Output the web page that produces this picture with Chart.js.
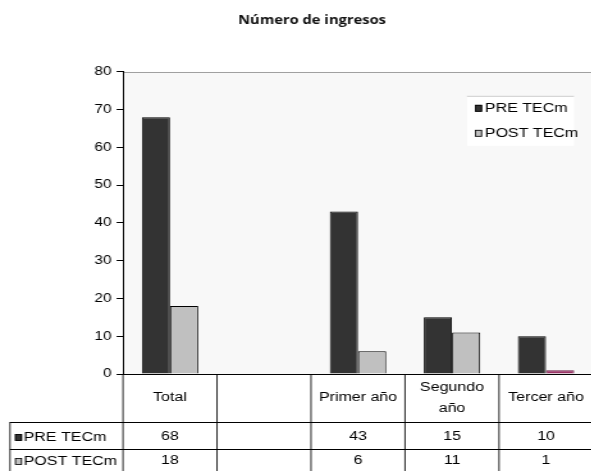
<!DOCTYPE html>
<html><head><meta charset="utf-8">
<script src="https://cdn.jsdelivr.net/npm/chart.js@4"></script>
<style>
html,body{margin:0;padding:0;overflow:hidden;background:#fff;width:591px;height:471px}
#wrap{position:absolute;left:0;top:0;width:466px;height:471px;transform:scaleX(1.28);transform-origin:0 0}
canvas{display:block}
</style>
</head><body>
<div id="wrap"><canvas id="c" width="466" height="471" style="width:466px;height:471px"></canvas></div>
<script>
const titleText = 'Número de ingresos';
const categories = ['Total', '', 'Primer año', ['Segundo', 'año'], 'Tercer año'];
const seriesNames = ['PRE TECm', 'POST TECm'];
const preValues = [68, null, 43, 15, 10];
const postValues = [18, null, 6, 11, 1];
const yTicks = [0, 10, 20, 30, 40, 50, 60, 70, 80];

const preColor = '#333333';
const postColor = '#c0c0c0';
const postBarColors = ['#c0c0c0', '#c0c0c0', '#c0c0c0', '#c0c0c0', '#993366'];
const FONT = "'Liberation Sans', Arial, sans-serif";

const bgPlugin = {
  id: 'bg',
  beforeDraw(chart) {
    const { ctx, chartArea: a } = chart;
    ctx.save();
    ctx.fillStyle = '#ffffff';
    ctx.fillRect(0, 0, chart.width, chart.height);
    ctx.fillStyle = '#f8f8f8';
    ctx.fillRect(a.left, a.top, a.right - a.left, a.bottom - a.top);
    ctx.strokeStyle = '#a0a0a0';
    ctx.lineWidth = 1;
    ctx.beginPath();
    ctx.moveTo(a.left, Math.round(a.top) + 0.5);
    ctx.lineTo(chart.width, Math.round(a.top) + 0.5);
    ctx.stroke();
    ctx.restore();
  }
};

const legendPlugin = {
  id: 'insideLegend',
  afterDatasetsDraw(chart) {
    const { ctx, chartArea: a } = chart;
    const bx = a.right - 98.5, by = a.top + 24, bw = 83.6, bh = 50;
    ctx.save();
    ctx.fillStyle = '#ffffff';
    ctx.fillRect(bx, by, bw, bh);
    ctx.strokeStyle = '#cccccc';
    ctx.lineWidth = 1;
    ctx.beginPath();
    ctx.moveTo(bx, by + 0.5); ctx.lineTo(bx + bw, by + 0.5);
    ctx.stroke();
    const cols = [preColor, postColor];
    const ys = [by + 12, by + 37];
    ctx.font = '12.5px ' + FONT;
    ctx.textBaseline = 'middle';
    ctx.textAlign = 'left';
    seriesNames.forEach((name, i) => {
      ctx.fillStyle = cols[i];
      ctx.fillRect(bx + 6.3, ys[i] - 3, 5.5, 7);
      ctx.strokeStyle = '#000';
      ctx.lineWidth = 0.8;
      ctx.strokeRect(bx + 6.7, ys[i] - 2.5, 4.7, 6);
      ctx.fillStyle = '#000';
      ctx.fillText(name, bx + 14, ys[i] + 1);
    });
    ctx.restore();
  }
};

const tablePlugin = {
  id: 'dataTable',
  afterDraw(chart) {
    const { ctx, chartArea: a, scales: { x } } = chart;
    const n = categories.length;
    const w = (a.right - a.left) / n;
    const H = chart.height, W = chart.width;
    const r1 = a.bottom, r2 = Math.round(a.bottom + 48), r3 = r2 + 27;
    ctx.save();
    ctx.strokeStyle = '#000';
    ctx.lineWidth = 0.85;
    ctx.beginPath();
    for (let i = 0; i <= n; i++) {
      const xx = a.left + i * w;
      ctx.moveTo(xx, r1); ctx.lineTo(xx, H);
    }
    ctx.moveTo(7.8, r2); ctx.lineTo(7.8, H);
    ctx.stroke();
    ctx.lineWidth = 1;
    ctx.beginPath();
    ctx.moveTo(7.8, r2 + 0.5); ctx.lineTo(W, r2 + 0.5);
    ctx.moveTo(7.8, r3 + 0.5); ctx.lineTo(W, r3 + 0.5);
    ctx.stroke();

    ctx.fillStyle = '#000';
    ctx.font = '12.5px ' + FONT;
    ctx.textAlign = 'center';
    ctx.textBaseline = 'middle';
    categories.forEach((c, i) => {
      const cx = x.getPixelForValue(i);
      const lines = Array.isArray(c) ? c : [c];
      const cy = (r1 + r2) / 2;
      lines.forEach((l, j) => ctx.fillText(l, cx, cy + (j - (lines.length - 1) / 2) * 21));
    });
    const rows = [preValues, postValues];
    const rowY = [r2 + 15, r3 + 12];
    const cols = [preColor, postColor];
    rows.forEach((vals, r) => {
      ctx.textAlign = 'center';
      ctx.fillStyle = '#000';
      vals.forEach((v, i) => {
        if (v === null) return;
        ctx.fillText(String(v), x.getPixelForValue(i), rowY[r]);
      });
      ctx.fillStyle = cols[r];
      ctx.fillRect(11.7, rowY[r] - 3, 5.5, 7);
      ctx.lineWidth = 0.8;
      ctx.strokeRect(12.1, rowY[r] - 2.5, 4.7, 6);
      ctx.fillStyle = '#000';
      ctx.textAlign = 'left';
      ctx.fillText(seriesNames[r], 18.5, rowY[r] + 1);
    });
    ctx.restore();
  }
};

new Chart(document.getElementById('c'), {
  type: 'bar',
  data: {
    labels: categories,
    datasets: [
      { label: seriesNames[0], data: preValues, backgroundColor: preColor, borderColor: '#000', borderWidth: 1 },
      { label: seriesNames[1], data: postValues, backgroundColor: postBarColors,
        borderColor: ['#000', '#000', '#000', '#000', '#6a1f45'], borderWidth: 1 }
    ]
  },
  options: {
    responsive: false,
    animation: false,
    devicePixelRatio: 1,
    layout: { padding: { left: 24.2, right: 2.7, top: 0, bottom: 0 } },
    datasets: { bar: { categoryPercentage: 0.6, barPercentage: 1.0 } },
    plugins: {
      legend: { display: false },
      tooltip: { enabled: false },
      title: {
        display: true, text: titleText, color: '#111',
        font: { family: "'Open Sans', sans-serif", size: 11.5, weight: '700' },
        padding: { top: 14, bottom: 44 }
      }
    },
    scales: {
      x: {
        ticks: { display: false },
        grid: { display: false },
        border: { color: '#000' },
        afterFit(s) { s.height = 97; }
      },
      y: {
        min: 0, max: 80,
        afterBuildTicks(s) { s.ticks = yTicks.map(v => ({ value: v })); },
        ticks: { color: '#000', font: { family: FONT, size: 12 }, padding: 4 },
        grid: { drawOnChartArea: false, drawTicks: true, tickLength: 5, color: '#000' },
        border: { color: '#000' },
        afterFit(s) { s.width = 71.9; }
      }
    }
  },
  plugins: [bgPlugin, legendPlugin, tablePlugin]
});
</script>
</body></html>
